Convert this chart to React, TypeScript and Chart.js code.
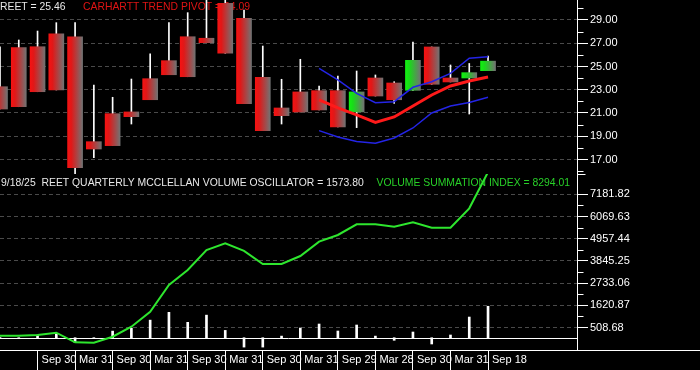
import React, { useEffect, useRef } from 'react';
import { Chart, registerables } from 'chart.js';

Chart.register(...registerables);

// ---- data ----
const quarterIndex = [0, 1, 2, 3, 4, 5, 6, 7, 8, 9, 10, 11, 12, 13, 14, 15, 16, 17, 18, 19, 20, 21, 22, 23, 24, 25, 26];
const openP = [23.26, 26.62, 26.7, 27.82, 27.56, 18.53, 20.94, 21.09, 23.95, 25.5, 27.56, 27.43, 30.44, 29.15, 24.07, 21.43, 22.81, 22.92, 22.92, 21.09, 24.01, 23.58, 22.95, 26.68, 24.01, 24.01, 24.64];
const closeP = [21.34, 21.54, 22.83, 22.98, 16.29, 17.9, 18.19, 20.68, 22.14, 24.29, 24.12, 27.05, 26.14, 21.8, 19.48, 20.77, 21.09, 21.26, 19.8, 22.81, 22.46, 22.14, 25.53, 23.47, 23.67, 24.47, 25.46];
const highP = [26.7, 27.28, 28.05, 28.77, 28.77, 23.41, 22.35, 23.92, 26.08, 28.77, 29.63, 31.0, 31.0, 29.86, 26.76, 23.9, 25.62, 23.32, 24.18, 24.61, 24.27, 23.69, 27.11, 26.68, 25.13, 25.26, 25.9];
const lowP = [21.34, 21.54, 22.83, 22.98, 15.73, 17.16, 18.19, 20.05, 22.14, 24.29, 24.12, 27.05, 26.14, 21.8, 19.48, 20.05, 21.09, 21.26, 19.8, 19.74, 22.46, 21.83, 22.95, 23.47, 23.67, 20.91, 24.64];

const bandIndex = [17, 18, 19, 20, 21, 22, 23, 24, 25, 26];
const pivotLine = [22.12, 21.43, 20.83, 20.18, 20.66, 21.6, 22.55, 23.32, 23.75, 24.09];
const upperBand = [24.84, 23.84, 22.69, 21.89, 21.97, 23.21, 23.69, 24.41, 25.71, 25.84];
const lowerBand = [19.48, 18.94, 18.55, 18.39, 18.85, 19.71, 21.0, 21.6, 21.9, 22.35];

const summationIndex = [100, 100, 135, 250, -230, -250, 50, 550, 1300, 2640, 3390, 4390, 4730, 4350, 3690, 3690, 4090, 4810, 5145, 5680, 5680, 5560, 5780, 5510, 5510, 6480, 8294.01];
const oscillatorBars = [0, 0, 130, 200, -250, 0, 330, 480, 880, 1270, 770, 1130, 365, -470, -470, 80, 485, 685, 335, 635, 80, -130, 285, -315, 135, 1035, 1573.8];

const priceTicks = [17, 19, 21, 23, 25, 27, 29];
const priceMinorTicks = [16, 18, 20, 22, 24, 26, 28, 30];
const volumeTicks = [508.68, 1620.87, 2733.06, 3845.25, 4957.44, 6069.63, 7181.82];
const volumeMinorTicks = [1064.78, 2176.97, 3289.16, 4401.35, 5513.54, 6625.73];
const xTickPositions = [2, 4, 6, 8, 10, 12, 14, 16, 18, 20, 22, 24, 26];
const xTickLabels = ['Sep 30', 'Mar 31', 'Sep 30', 'Mar 31', 'Sep 30', 'Mar 31', 'Sep 30', 'Mar 31', 'Sep 29', 'Mar 28', 'Sep 30', 'Mar 31', 'Sep 18'];

const headerPrice = 'REET = 25.46';
const headerPivot = 'CARHARTT TREND PIVOT = 24.09';
const headerOsc = '9/18/25  REET QUARTERLY MCCLELLAN VOLUME OSCILLATOR = 1573.80';
const headerVsi = 'VOLUME SUMMATION INDEX = 8294.01';

const FONT = '"Liberation Sans", Arial, sans-serif';

const decorPlugin = {
  id: 'decor',
  beforeDatasetsDraw(chart: any) {
    const { ctx, chartArea } = chart;
    const y2 = chart.scales.y2;
    ctx.save();
    const zy = Math.round(y2.getPixelForValue(0)) + 0.5;
    ctx.strokeStyle = '#ffffff';
    ctx.lineWidth = 1;
    ctx.beginPath();
    ctx.moveTo(chartArea.left, zy);
    ctx.lineTo(chartArea.right, zy);
    ctx.stroke();
    ctx.font = '10.4px ' + FONT;
    ctx.textBaseline = 'alphabetic';
    ctx.textAlign = 'left';
    ctx.fillStyle = '#e8e8e8';
    ctx.fillText(headerPrice, 0, 10);
    ctx.fillStyle = '#e01414';
    ctx.fillText(headerPivot, 83, 10);
    ctx.fillStyle = '#e8e8e8';
    ctx.fillText(headerOsc, 1, 185.5);
    ctx.fillStyle = '#28d028';
    ctx.fillText(headerVsi, 376.5, 185.5);
    ctx.restore();
  },
  afterDraw(chart: any) {
    const { ctx, chartArea } = chart;
    const ys = chart.scales.y;
    const y2 = chart.scales.y2;
    ctx.save();
    ctx.strokeStyle = '#ffffff';
    ctx.lineWidth = 1;
    ctx.beginPath();
    const by = Math.round(chartArea.bottom) + 0.5;
    ctx.moveTo(0, by);
    ctx.lineTo(chart.width, by);
    const ax = Math.round(ys.left) + 0.5;
    for (const v of priceMinorTicks) {
      const p = Math.round(ys.getPixelForValue(v)) + 0.5;
      ctx.moveTo(ax, p);
      ctx.lineTo(ax + 6, p);
    }
    for (const v of volumeMinorTicks) {
      const p = Math.round(y2.getPixelForValue(v)) + 0.5;
      ctx.moveTo(ax, p);
      ctx.lineTo(ax + 6, p);
    }
    const tp = Math.round(y2.top) + 0.5;
    ctx.moveTo(ax, tp);
    ctx.lineTo(ax + 8, tp);
    ctx.stroke();
    ctx.restore();
  },
};

function bodyColor(c: any) {
  const i = c.dataIndex;
  const up = closeP[i] > openP[i];
  const flat = up ? '#10e010' : '#e01010';
  if (c.type !== 'data' || i === undefined) return flat;
  const xs = c.chart.scales && c.chart.scales.x;
  if (!xs) return flat;
  const px = xs.getPixelForValue(quarterIndex[i]);
  if (!Number.isFinite(px)) return flat;
  const g = c.chart.ctx.createLinearGradient(px - 7.5, 0, px + 7.5, 0);
  g.addColorStop(0, up ? '#12f012' : '#f51212');
  g.addColorStop(0.25, up ? '#18dc18' : '#e01818');
  g.addColorStop(1, '#727272');
  return g;
}

export default function App() {
  const ref = useRef<HTMLCanvasElement>(null);
  useEffect(() => {
    const canvas = ref.current;
    if (!canvas) return;
    const tickFont = { family: FONT, size: 11 };
    const chart = new Chart(canvas, {
      type: 'bar',
      data: {
        datasets: [
          {
            type: 'line',
            yAxisID: 'y',
            data: bandIndex.map((k, i) => ({ x: k, y: pivotLine[i] })),
            borderColor: '#ff1a1a',
            borderWidth: 3,
            pointRadius: 0,
            tension: 0,
            order: 0,
          } as any,
          {
            type: 'line',
            yAxisID: 'y',
            data: bandIndex.map((k, i) => ({ x: k, y: upperBand[i] })),
            borderColor: '#2424e6',
            borderWidth: 1.5,
            pointRadius: 0,
            tension: 0,
            order: 0,
          },
          {
            type: 'line',
            yAxisID: 'y',
            data: bandIndex.map((k, i) => ({ x: k, y: lowerBand[i] })),
            borderColor: '#2424e6',
            borderWidth: 1.5,
            pointRadius: 0,
            tension: 0,
            order: 0,
          },
          {
            type: 'bar',
            yAxisID: 'y',
            data: quarterIndex.map((k, i) => ({ x: k, y: [openP[i], closeP[i]] })),
            backgroundColor: bodyColor,
            borderWidth: 0,
            barThickness: 15,
            grouped: false,
            order: 2,
          },
          {
            type: 'bar',
            yAxisID: 'y',
            data: quarterIndex.map((k, i) => ({ x: k, y: [lowP[i], highP[i]] })),
            backgroundColor: '#ffffff',
            borderWidth: 0,
            barThickness: 1,
            grouped: false,
            order: 3,
          },
          {
            type: 'line',
            yAxisID: 'y2',
            data: quarterIndex.map((k, i) => ({ x: k, y: summationIndex[i] })),
            borderColor: '#2ee62e',
            borderWidth: 2,
            pointRadius: 0,
            tension: 0,
            order: 0,
          },
          {
            type: 'bar',
            yAxisID: 'y2',
            data: quarterIndex.map((k, i) => ({ x: k, y: oscillatorBars[i] })),
            backgroundColor: '#ffffff',
            borderWidth: 0,
            barThickness: 2,
            grouped: false,
            order: 1,
          },
        ] as any,
      },
      options: {
        animation: false,
        responsive: false,
        maintainAspectRatio: false,
        devicePixelRatio: 1,
        events: [],
        layout: { padding: 0 },
        plugins: { legend: { display: false }, tooltip: { enabled: false }, title: { display: false } },
        scales: {
          x: {
            type: 'linear',
            bounds: 'data',
            min: 0,
            max: 30.74,
            offset: false,
            afterBuildTicks: (s: any) => {
              s.ticks = xTickPositions.map((v) => ({ value: v }));
            },
            afterFit: (s: any) => {
              s.height = 20;
              s.paddingLeft = 0;
              s.paddingRight = 0;
            },
            ticks: {
              autoSkip: false,
              maxRotation: 0,
              minRotation: 0,
              align: 'start',
              labelOffset: 4,
              padding: -17,
              color: '#ffffff',
              font: tickFont,
              callback: (_v: any, i: number) => xTickLabels[i],
            },
            grid: { display: true, drawOnChartArea: false, drawTicks: true, tickLength: 20, tickColor: '#ffffff', tickWidth: 1, offset: false },
            border: { display: false },
          },
          y: {
            type: 'linear',
            position: 'right',
            stack: 'panes',
            stackWeight: 174,
            weight: 1,
            bounds: 'data',
            min: 15.75,
            max: 30.72,
            afterBuildTicks: (s: any) => {
              s.ticks = priceTicks.map((v) => ({ value: v }));
            },
            afterFit: (s: any) => {
              s.width = 123;
              s.paddingTop = 0;
              s.paddingBottom = 0;
            },
            ticks: { autoSkip: false, color: '#ffffff', font: tickFont, padding: 2, callback: (v: any) => Number(v).toFixed(2) },
            grid: { color: '#4a4a4a', lineWidth: 1, tickLength: 11, tickColor: '#ffffff', drawTicks: true },
            border: { display: true, color: '#ffffff', width: 1, dash: [4, 3] },
          },
          y2: {
            type: 'linear',
            position: 'right',
            stack: 'panes',
            stackWeight: 176,
            weight: 1,
            bounds: 'data',
            min: -616,
            max: 8199,
            afterBuildTicks: (s: any) => {
              s.ticks = volumeTicks.map((v) => ({ value: v }));
            },
            afterFit: (s: any) => {
              s.width = 123;
              s.paddingTop = 0;
              s.paddingBottom = 0;
            },
            ticks: { autoSkip: false, color: '#ffffff', font: tickFont, padding: 2, callback: (v: any) => Number(v).toFixed(2) },
            grid: { color: '#4a4a4a', lineWidth: 1, tickLength: 11, tickColor: '#ffffff', drawTicks: true },
            border: { display: true, color: '#ffffff', width: 1, dash: [4, 3] },
          },
        },
      } as any,
      plugins: [decorPlugin],
    });
    return () => chart.destroy();
  }, []);
  return (
    <div style={{ position: 'absolute', left: 0, top: 0, width: 700, height: 370, background: '#000' }}>
      <canvas ref={ref} width={700} height={370} style={{ display: 'block', width: 700, height: 370, background: '#000' }} />
    </div>
  );
}
